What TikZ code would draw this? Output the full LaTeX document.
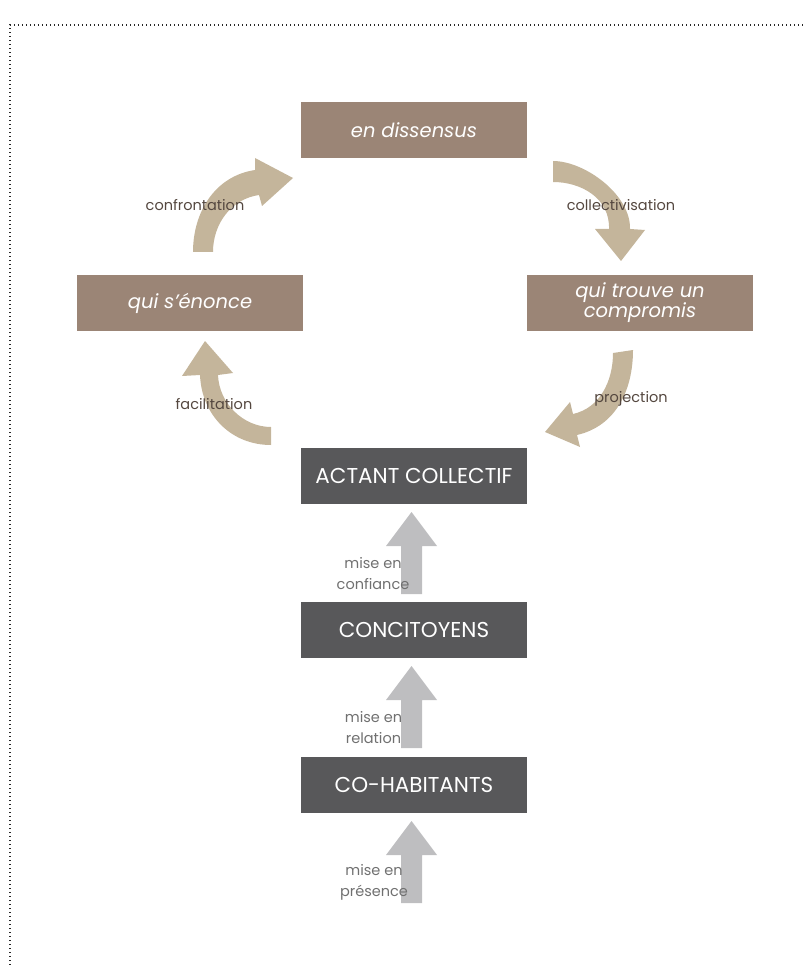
\documentclass[tikz,border=0pt]{standalone}
\usepackage{fontspec}
\setmainfont{Poppins}
\definecolor{boxbrown}{HTML}{9B8576}
\definecolor{boxdark}{HTML}{58585A}
\definecolor{arrowbeige}{HTML}{C4B59B}
\definecolor{arrowgray}{HTML}{BEBEC0}
\definecolor{labelbrown}{HTML}{54473F}
\definecolor{labelgray}{HTML}{707070}
\begin{document}
\begin{tikzpicture}[x=1pt,y=-1pt,
  stagebox/.style={fill=boxbrown,text=white,inner sep=0pt,minimum width=226pt,minimum height=56pt,font=\fontsize{19.5}{20}\selectfont\itshape,align=center},
  levelbox/.style={fill=boxdark,text=white,inner sep=0pt,minimum width=226pt,minimum height=56pt,font=\fontsize{21.5}{24}\selectfont},
  cyclelabel/.style={text=labelbrown,inner sep=0pt,font=\fontsize{14.5}{17}\selectfont,anchor=base},
  uplabel/.style={text=labelgray,inner sep=0pt,font=\fontsize{14.5}{21}\selectfont,align=center},
  curvedarrow/.style={fill=arrowbeige},
  uparrow/.style={fill=arrowgray},
  border/.style={draw=black!85,line width=1.4pt,dash pattern=on 1.4pt off 2.6pt}
]
\useasboundingbox (0,0) rectangle (804,965);
\draw[border] (10,965) -- (10,25) -- (804,25);

% boxes
\node[stagebox] (diss) at (414,130) {en dissensus};
\node[stagebox] (enonce) at (190,303) {qui s’énonce};
\node[stagebox] (compromis) at (640,303) {qui trouve un\\compromis};
\node[levelbox] (actant) at (414,476) {ACTANT COLLECTIF};
\node[levelbox] (conci) at (414,630) {CONCITOYENS};
\node[levelbox] (cohab) at (414,785) {CO-HABITANTS};

% curved cycle arrows
\fill[curvedarrow] (193,252) .. controls (193,212) and (215,176) .. (255,170) -- (255,158) -- (293,178) -- (262,206) -- (259,195) .. controls (231,199) and (213,224) .. (213,252) -- cycle;
\fill[curvedarrow] (553,161) .. controls (585,161) and (631,195) .. (630,229) -- (645,230) -- (621,261) -- (595,229) -- (609,229) .. controls (610,198) and (581,182) .. (553,182) -- cycle;
\fill[curvedarrow] (613,353) -- (633,350) .. controls (633,390) and (616,426) .. (577,435) -- (580,447) -- (545,432) -- (570,402) -- (573,414) .. controls (600,408) and (613,381) .. (613,353) -- cycle;
\fill[curvedarrow] (271,445) .. controls (231,445) and (201.6,415) .. (200,375) -- (182,376) -- (205,341) -- (233,373) -- (218,375) .. controls (219,403) and (243,427) .. (271,427) -- cycle;

% vertical arrows
\foreach \t/\b in {512/594, 666/748, 821/903}
  \fill[uparrow] (401,\b) -- (401,\t+34) -- (386,\t+34) -- (411.5,\t) -- (437,\t+34) -- (422,\t+34) -- (422,\b) -- cycle;

% labels
\node[cyclelabel] (l1) at (195,211) {confrontation};
\node[cyclelabel] (l2) at (621,211) {collectivisation};
\node[cyclelabel] (l3) at (631,402) {projection};
\node[cyclelabel] (l4) at (214,409) {facilitation};
\node[uplabel] (u1) at (373,573.5) {mise en\\confiance};
\node[uplabel] (u2) at (373.5,728) {mise en\\relation};
\node[uplabel] (u3) at (374,882.5) {mise en\\présence};
\end{tikzpicture}
\end{document}
